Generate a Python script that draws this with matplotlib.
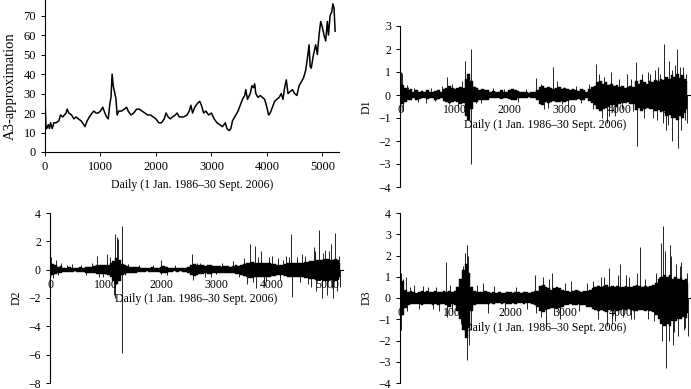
import numpy as np
import matplotlib.pyplot as plt

plt.rcParams['font.family'] = ['Liberation Serif', 'DejaVu Serif']
plt.rcParams['font.size'] = 8

# ---- A3-approximation (dias, valor) ----
a3_dias = [0, 20, 30, 60, 80, 100, 130, 160, 200, 250, 280, 320, 380, 400, 430, 480, 520, 560,
           600, 650, 700, 720, 760, 800, 850, 880, 920, 960, 1000, 1040, 1080, 1110, 1140, 1170,
           1190, 1210, 1230, 1260, 1280, 1300, 1330, 1380, 1430, 1470, 1500, 1550, 1600, 1650,
           1700, 1750, 1800, 1850, 1900, 1950, 2000, 2050, 2100, 2150, 2180, 2220, 2260, 2300,
           2350, 2380, 2420, 2500, 2560, 2600, 2630, 2660, 2700, 2750, 2790, 2820, 2860, 2900,
           2950, 3000, 3050, 3100, 3150, 3200, 3250, 3280, 3320, 3350, 3380, 3420, 3480, 3520,
           3560, 3600, 3620, 3650, 3700, 3730, 3760, 3780, 3800, 3840, 3880, 3920, 3960, 4000,
           4030, 4060, 4100, 4140, 4180, 4220, 4260, 4290, 4320, 4350, 4380, 4420, 4460, 4500,
           4540, 4580, 4620, 4660, 4700, 4730, 4760, 4780, 4800, 4840, 4880, 4910, 4940, 4970,
           5000, 5030, 5060, 5090, 5110, 5140, 5170, 5190, 5210, 5230]
a3_valores = [26, 12, 12, 14, 12, 15, 12, 15, 15, 16, 19, 18, 20, 22, 20, 19, 17, 18,
              17, 16, 14, 13, 16, 18, 20, 21, 20, 20, 21, 23, 20, 18, 17, 25,
              28, 40, 34, 30, 27, 19, 21, 21, 22, 23, 21, 19, 20, 22,
              22, 21, 20, 19, 19, 18, 17, 15, 15, 17, 20, 18, 17, 18,
              19, 20, 18, 18, 19, 21, 24, 20, 23, 25, 26, 24, 20, 21,
              19, 20, 17, 15, 14, 13, 15, 12, 11, 12, 16, 18, 21, 24,
              27, 29, 32, 27, 30, 34, 33, 35, 30, 28, 29, 28, 27, 23,
              19, 20, 23, 26, 27, 28, 30, 27, 33, 37, 30, 31, 32, 30,
              29, 34, 36, 38, 42, 48, 55, 44, 43, 50, 55, 50, 60, 67,
              64, 60, 57, 67, 60, 70, 72, 76, 74, 62]

# ---- Envelope da faixa densa das séries de detalhe (a cada 50 dias) ----
env_dias = list(range(0, 5201, 50)) + [5230]

d1_sup = [0.6, 0.45, 0.3, 0.2, 0.25, 0.15, 0.2, 0.15, 0.18, 0.12,
          0.2, 0.15, 0.12, 0.18, 0.2, 0.15, 0.25, 0.3, 0.4, 0.3,
          0.25, 0.3, 0.35, 0.3, 0.7, 0.9, 0.6, 0.35, 0.3, 0.2,
          0.25, 0.2, 0.22, 0.15, 0.18, 0.12, 0.15, 0.2, 0.15, 0.12,
          0.2, 0.25, 0.2, 0.18, 0.15, 0.12, 0.15, 0.1, 0.12, 0.15,
          0.2, 0.35, 0.4, 0.3, 0.35, 0.3, 0.25, 0.3, 0.35, 0.25,
          0.3, 0.25, 0.2, 0.25, 0.2, 0.18, 0.25, 0.2, 0.15, 0.25,
          0.35, 0.4, 0.55, 0.6, 0.5, 0.55, 0.45, 0.5, 0.4, 0.45,
          0.35, 0.4, 0.3, 0.35, 0.4, 0.35, 0.6, 0.5, 0.65, 0.55,
          0.5, 0.6, 0.55, 0.65, 0.6, 0.7, 0.65, 0.8, 0.7, 0.85,
          0.8, 0.9, 0.75, 0.85, 0.7, 0.6]
d1_inf = [-0.7, -0.4, -0.3, -0.2, -0.22, -0.15, -0.2, -0.18, -0.15, -0.12,
          -0.18, -0.15, -0.15, -0.2, -0.18, -0.15, -0.25, -0.3, -0.35, -0.3,
          -0.25, -0.3, -0.4, -0.35, -0.9, -1.1, -0.6, -0.3, -0.3, -0.2,
          -0.2, -0.22, -0.2, -0.15, -0.15, -0.12, -0.15, -0.18, -0.15, -0.12,
          -0.18, -0.22, -0.2, -0.15, -0.15, -0.12, -0.12, -0.1, -0.12, -0.15,
          -0.2, -0.4, -0.45, -0.3, -0.35, -0.3, -0.25, -0.3, -0.3, -0.25,
          -0.3, -0.25, -0.2, -0.22, -0.2, -0.18, -0.2, -0.2, -0.15, -0.25,
          -0.35, -0.45, -0.6, -0.7, -0.6, -0.55, -0.5, -0.45, -0.45, -0.5,
          -0.4, -0.35, -0.35, -0.3, -0.4, -0.4, -0.65, -0.55, -0.7, -0.6,
          -0.55, -0.6, -0.6, -0.7, -0.65, -0.75, -0.7, -0.9, -0.85, -1.0,
          -1.0, -1.1, -0.9, -1.0, -0.8, -0.6]
d1_pico_x = [10, 40, 60, 120, 150, 250, 330, 480, 560, 640, 760, 860, 900, 950, 1050, 1120,
             1180, 1230, 1285, 1290, 1350, 1380, 1480, 1700, 1900, 2150, 2300, 2470, 2560, 2620,
             2700, 2780, 2850, 2950, 3050, 3200, 3300, 3450, 3520, 3560, 3620, 3680, 3720, 3760,
             3800, 3840, 3920, 3980, 4050, 4140, 4200, 4250, 4300, 4313, 4400, 4450, 4520, 4560,
             4600, 4650, 4680, 4700, 4740, 4780, 4810, 4850, 4880, 4900, 4950, 4960, 5000, 5050,
             5060, 5100, 5120, 5150, 5180, 5200, 5220]
d1_pico_y = [1.0, 0.95, -0.7, 0.45, 0.35, 0.3, -0.3, -0.35, 0.3, -0.25, 0.4, 0.8, -0.4, 0.5, -0.5, 0.6,
             1.5, -1.1, 2.0, -3.0, 0.4, -0.35, -0.35, 0.3, 0.25, -0.3, 0.25, 0.75, 0.5, -0.6,
             -0.55, 1.2, 0.6, -0.4, -0.5, 0.4, -0.35, 0.5, -0.6, 1.35, 0.9, -1.0, 0.8, -1.2,
             -0.9, 1.0, -0.9, 0.7, -0.6, 0.9, 0.7, -0.7, 1.45, -2.2, 0.9, -1.0, 1.0, 0.9,
             -1.0, 1.1, -1.1, 1.2, 0.9, -1.2, 2.2, -1.5, -1.3, 1.5, -2.0, 1.1, 1.3, 2.0,
             -2.3, 1.2, -1.5, 1.2, -1.1, 0.9, -1.2]

d2_sup = [0.5, 0.4, 0.3, 0.2, 0.25, 0.15, 0.15, 0.2, 0.15, 0.12,
          0.15, 0.18, 0.15, 0.2, 0.22, 0.2, 0.25, 0.3, 0.35, 0.3,
          0.3, 0.35, 0.45, 0.6, 0.8, 0.7, 0.4, 0.3, 0.25, 0.2,
          0.2, 0.18, 0.2, 0.15, 0.15, 0.12, 0.15, 0.2, 0.15, 0.15,
          0.2, 0.25, 0.2, 0.15, 0.15, 0.12, 0.15, 0.12, 0.15, 0.15,
          0.2, 0.35, 0.4, 0.35, 0.3, 0.3, 0.25, 0.3, 0.3, 0.25,
          0.25, 0.25, 0.2, 0.25, 0.25, 0.2, 0.25, 0.3, 0.25, 0.3,
          0.4, 0.45, 0.5, 0.55, 0.5, 0.5, 0.45, 0.5, 0.45, 0.45,
          0.4, 0.4, 0.35, 0.35, 0.35, 0.4, 0.45, 0.45, 0.5, 0.45,
          0.45, 0.5, 0.55, 0.55, 0.6, 0.6, 0.65, 0.7, 0.7, 0.75,
          0.75, 0.7, 0.7, 0.75, 0.65, 0.5]
d2_inf = [-0.5, -0.35, -0.3, -0.2, -0.2, -0.15, -0.15, -0.18, -0.15, -0.12,
          -0.15, -0.15, -0.15, -0.2, -0.2, -0.2, -0.25, -0.3, -0.3, -0.3,
          -0.3, -0.4, -0.5, -0.8, -1.0, -0.8, -0.4, -0.3, -0.25, -0.2,
          -0.2, -0.2, -0.18, -0.15, -0.15, -0.12, -0.15, -0.18, -0.15, -0.15,
          -0.2, -0.22, -0.2, -0.15, -0.15, -0.12, -0.15, -0.12, -0.15, -0.15,
          -0.25, -0.4, -0.45, -0.35, -0.3, -0.3, -0.25, -0.3, -0.3, -0.25,
          -0.25, -0.25, -0.2, -0.25, -0.25, -0.2, -0.25, -0.3, -0.3, -0.35,
          -0.45, -0.5, -0.6, -0.6, -0.55, -0.55, -0.5, -0.55, -0.5, -0.5,
          -0.45, -0.45, -0.4, -0.4, -0.4, -0.45, -0.5, -0.5, -0.55, -0.5,
          -0.5, -0.55, -0.6, -0.6, -0.65, -0.65, -0.7, -0.75, -0.75, -0.8,
          -0.8, -0.75, -0.75, -0.8, -0.7, -0.5]
d2_pico_x = [10, 50, 100, 150, 200, 300, 400, 550, 650, 750, 850, 880, 950, 1030, 1080, 1150,
             1170, 1180, 1200, 1230, 1290, 1295, 1300, 1350, 1400, 1600, 1850, 2000, 2100, 2250,
             2550, 2580, 2650, 2700, 2800, 2900, 3100, 3300, 3400, 3500, 3550, 3600, 3650, 3700,
             3720, 3750, 3800, 3850, 3900, 3950, 4000, 4100, 4150, 4200, 4250, 4300, 4350, 4360,
             4450, 4500, 4550, 4600, 4650, 4700, 4750, 4780, 4800, 4845, 4900, 4920, 4950, 5000,
             5030, 5060, 5080, 5100, 5130, 5170, 5200, 5220]
d2_pico_y = [0.9, -0.6, 0.7, -0.4, 0.5, 0.35, 0.4, 0.3, -0.35, 0.45, 1.0, -0.5, -0.5, 1.1, 0.9, -1.8,
             2.5, -2.0, 2.3, 2.2, 3.1, -5.9, 0.8, -0.4, 0.4, 0.3, 0.3, 0.7, -0.35, 0.3,
             1.1, -0.7, 0.5, 0.5, -0.5, -0.5, 0.45, 0.6, -0.5, 0.8, -1.0, 1.8, -0.9, 1.7,
             -1.3, 0.9, 1.3, -1.0, -0.8, 0.9, 1.0, 0.8, -0.7, 0.7, 1.0, 0.9, 2.5, -1.9,
             0.9, -0.9, 1.1, 1.0, -1.0, -1.2, 1.6, 1.3, -1.5, 2.8, -2.0, 1.2, 1.4, -1.8,
             1.3, 1.8, -1.3, -2.0, 2.6, -1.5, 1.0, -1.2]

d3_sup = [1.0, 0.8, 0.4, 0.3, 0.35, 0.3, 0.25, 0.3, 0.35, 0.3,
          0.35, 0.3, 0.3, 0.35, 0.3, 0.3, 0.35, 0.3, 0.35, 0.3,
          0.35, 0.5, 0.9, 1.3, 1.6, 1.2, 0.5, 0.35, 0.3, 0.3,
          0.3, 0.35, 0.3, 0.25, 0.3, 0.25, 0.3, 0.25, 0.25, 0.3,
          0.3, 0.25, 0.3, 0.3, 0.25, 0.3, 0.3, 0.25, 0.3, 0.35,
          0.35, 0.55, 0.6, 0.5, 0.45, 0.4, 0.45, 0.5, 0.45, 0.4,
          0.35, 0.35, 0.3, 0.35, 0.4, 0.35, 0.3, 0.35, 0.35, 0.4,
          0.45, 0.5, 0.55, 0.5, 0.55, 0.6, 0.5, 0.55, 0.5, 0.55,
          0.5, 0.5, 0.55, 0.5, 0.5, 0.55, 0.6, 0.55, 0.5, 0.55,
          0.5, 0.55, 0.6, 0.7, 0.9, 1.0, 1.1, 1.0, 1.1, 0.9,
          1.0, 0.9, 0.95, 0.85, 0.9, 0.7]
d3_inf = [-1.1, -0.8, -0.45, -0.35, -0.3, -0.3, -0.3, -0.3, -0.35, -0.3,
          -0.3, -0.3, -0.35, -0.3, -0.35, -0.3, -0.3, -0.35, -0.4, -0.3,
          -0.35, -0.6, -1.0, -1.5, -1.9, -1.4, -0.6, -0.35, -0.3, -0.3,
          -0.3, -0.3, -0.3, -0.25, -0.3, -0.25, -0.25, -0.3, -0.25, -0.3,
          -0.3, -0.25, -0.3, -0.25, -0.25, -0.3, -0.25, -0.25, -0.3, -0.35,
          -0.4, -0.6, -0.65, -0.55, -0.5, -0.45, -0.45, -0.5, -0.45, -0.4,
          -0.35, -0.35, -0.3, -0.35, -0.35, -0.3, -0.35, -0.35, -0.4, -0.4,
          -0.5, -0.55, -0.6, -0.55, -0.6, -0.65, -0.55, -0.6, -0.55, -0.6,
          -0.55, -0.5, -0.55, -0.5, -0.55, -0.6, -0.6, -0.55, -0.55, -0.6,
          -0.55, -0.6, -0.65, -0.8, -1.0, -1.2, -1.3, -1.2, -1.3, -1.1,
          -1.1, -1.0, -1.0, -0.9, -0.95, -0.7]
d3_pico_x = [10, 20, 60, 100, 130, 180, 250, 350, 420, 500, 600, 650, 700, 840, 850, 900,
             950, 1100, 1150, 1180, 1220, 1220, 1240, 1250, 1280, 1400, 1500, 1600, 1700, 1900,
             2100, 2300, 2450, 2470, 2550, 2600, 2650, 2700, 2750, 2800, 2900, 3000, 3100, 3250,
             3400, 3500, 3600, 3650, 3700, 3750, 3800, 3850, 3900, 3950, 4000, 4050, 4100, 4150,
             4200, 4250, 4300, 4354, 4450, 4500, 4600, 4650, 4700, 4730, 4760, 4775, 4800, 4835,
             4880, 4900, 4920, 4950, 4970, 5000, 5050, 5080, 5100, 5150, 5180, 5200, 5230]
d3_pico_y = [1.2, -1.5, 0.9, 1.0, -0.6, 0.5, 0.6, -0.5, 0.55, 0.5, -0.5, 0.5, -0.6, 1.7, -0.9, 0.6,
             -0.6, -1.2, 1.5, 2.1, 2.5, -2.9, 2.0, -2.2, -1.5, 0.6, 0.7, -0.7, 0.55, -0.5,
             0.5, -0.5, 1.1, -0.7, -0.9, 1.0, -1.3, 0.9, 1.2, -0.8, -1.0, 0.7, 0.8, -0.6,
             0.7, 0.8, -1.0, 1.0, 1.0, -1.3, 1.4, -1.2, -1.1, 1.1, 1.6, -0.9, 1.1, 1.0,
             -1.0, -1.0, 1.2, 2.4, 0.9, -1.0, -1.1, 1.2, 1.0, 2.6, -2.0, 3.4, 2.2, -3.3,
             -2.0, 2.5, 2.0, -2.2, -1.6, 1.6, -1.8, 1.5, 1.7, -1.5, -1.4, 1.2, -1.8]

rotulo_x = 'Daily (1 Jan. 1986\u201330 Sept. 2006)'
ticks_x = [0, 1000, 2000, 3000, 4000, 5000]

W, H = 691, 389
fig = plt.figure(figsize=(W / 100, H / 100), dpi=100)


def caixa(esq, topo, larg, alt):
    return [esq / W, 1 - (topo + alt) / H, larg / W, alt / H]


# Painel A3
ax1 = fig.add_axes(caixa(45, 0, 294, 152))
ax1.plot(a3_dias, a3_valores, color='black', linewidth=1.1)
ax1.set_xlim(0, 5300)
ax1.set_ylim(0, 78)
ax1.set_yticks(range(0, 80, 10))
ax1.set_xticks(ticks_x)
ax1.set_ylabel('A3-approximation', fontsize=10.5)
ax1.yaxis.set_label_coords(-0.095, 0.43)
ax1.set_xlabel(rotulo_x, fontsize=8.5)
ax1.spines['top'].set_visible(False)
ax1.spines['right'].set_visible(False)
ax1.tick_params(length=3, width=0.7, labelsize=9)

# Paineis de detalhe
paineis = [
    (caixa(400, 26, 290, 161), d1_sup, d1_inf, d1_pico_x, d1_pico_y, (-4, 3), 'D1'),
    (caixa(50, 213, 293, 170), d2_sup, d2_inf, d2_pico_x, d2_pico_y, (-8, 4), 'D2'),
    (caixa(400, 213, 291, 170), d3_sup, d3_inf, d3_pico_x, d3_pico_y, (-4, 4), 'D3'),
]
for pos, sup, inf, px, py, lim, nome in paineis:
    ax = fig.add_axes(pos)
    ax.set_axisbelow(True)
    ax.fill_between(env_dias, inf, sup, step='mid', color='black', linewidth=0.3)
    ax.vlines(px, 0, py, color='black', linewidth=0.6)
    ax.set_xlim(0, 5280)
    ax.set_ylim(*lim)
    ax.set_xticks(ticks_x)
    if nome == 'D2':
        ax.set_yticks(range(-8, 5, 2))
    else:
        ax.set_yticks(range(lim[0], lim[1] + 1))
    ax.spines['bottom'].set_position(('data', 0))
    ax.spines['top'].set_visible(False)
    ax.spines['right'].set_visible(False)
    ax.tick_params(length=3, width=0.7, labelsize=8.5)
    ax.set_ylabel(nome, fontsize=8.5)
    ax.set_xlabel(rotulo_x, fontsize=8.5, labelpad=2)

fig.savefig('out.png', dpi=100)
